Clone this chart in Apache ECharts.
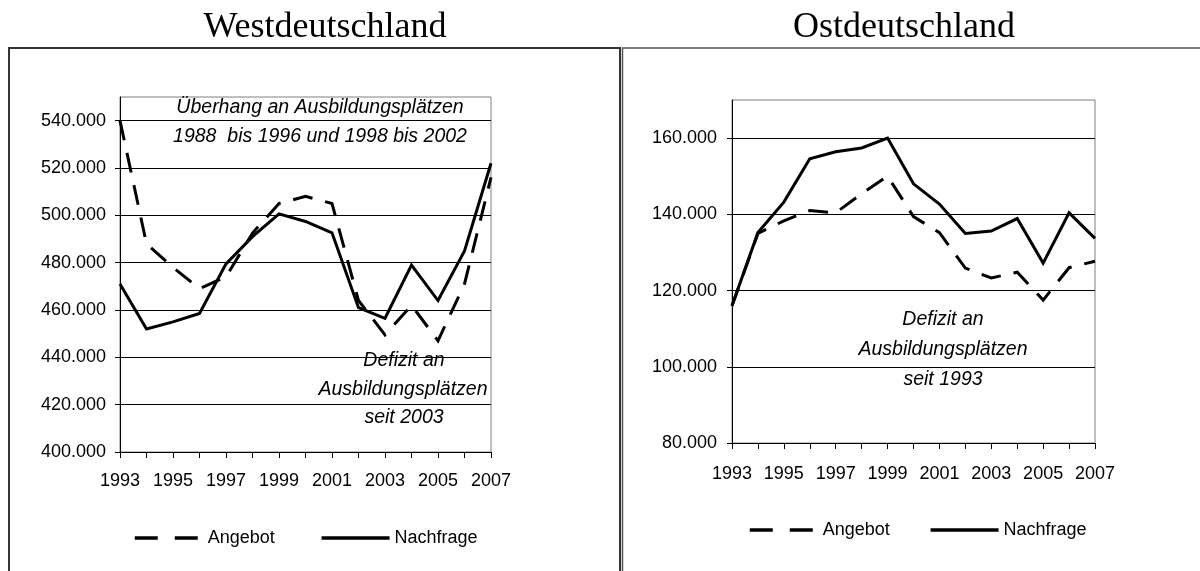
<!DOCTYPE html>
<html>
<head>
<meta charset="utf-8">
<title>Ausbildungsplätze West / Ost</title>
<script src="https://cdn.jsdelivr.net/npm/echarts@6/dist/echarts.min.js"></script>
<style>
    html, body { margin: 0; padding: 0; background: #fff; }
    #chart { width: 1200px; height: 571px; }
</style>
</head>
<body>
<div id="chart"></div>
<script>
// Jahre 1993 - 2007
var years = ["1993", "1994", "1995", "1996", "1997", "1998", "1999", "2000",
             "2001", "2002", "2003", "2004", "2005", "2006", "2007"];

// Westdeutschland
var westAngebot   = [540000, 488000, 478000, 469000, 474000, 492500, 505000, 508000,
                     505000, 464000, 449500, 462000, 447000, 471000, 516000];
var westNachfrage = [471000, 452000, 455000, 458500, 479500, 491000, 500600, 497400,
                     492600, 461000, 456500, 479000, 464000, 485000, 522000];

// Ostdeutschland
var ostAngebot    = [116000, 135000, 138300, 141000, 140400, 145400, 150000, 139400,
                     135200, 125900, 123300, 124800, 117500, 126000, 127700];
var ostNachfrage  = [116000, 135200, 143200, 154600, 156400, 157400, 160000, 148000,
                     142700, 135000, 135600, 138900, 127200, 140400, 133700];

// Achsenbeschriftung
var westTicks = [400000, 420000, 440000, 460000, 480000, 500000, 520000, 540000];
var ostTicks  = [80000, 100000, 120000, 140000, 160000];

var seriesNames = ["Angebot", "Nachfrage"];

var FONT = "Liberation Sans";
var dashType = [20, 13];

function fmt(v) {
    return Math.round(v / 1000) + ".000";
}

var myChart = echarts.init(document.getElementById("chart"));

function yAxisCfg(gridIndex, min, max, ticks, margin) {
    return {
        type: "value",
        gridIndex: gridIndex,
        min: min,
        max: max,
        interval: 20000,
        axisLine: { show: true, lineStyle: { color: "#000", width: 1 } },
        axisTick: { show: true, length: 5, customValues: ticks, lineStyle: { color: "#000" } },
        axisLabel: {
            color: "#000",
            fontFamily: FONT,
            fontSize: 18,
            margin: margin,
            customValues: ticks,
            formatter: function(v) { return v >= max ? "" : fmt(v); }
        },
        splitLine: { show: true, lineStyle: { color: "#000", width: 1 } }
    };
}

function xAxisCfg(gridIndex, margin) {
    return {
        type: "category",
        gridIndex: gridIndex,
        data: years,
        boundaryGap: false,
        axisLine: { lineStyle: { color: "#000", width: 1 } },
        axisTick: { show: true, interval: 0, length: 6, lineStyle: { color: "#000" } },
        axisLabel: { color: "#000", fontFamily: FONT, fontSize: 18, interval: 1, margin: margin },
        splitLine: { show: false }
    };
}

function lineSeries(name, data, idx, dashed) {
    return {
        name: name,
        type: "line",
        xAxisIndex: idx,
        yAxisIndex: idx,
        data: data,
        symbol: "none",
        smooth: false,
        animation: false,
        itemStyle: { color: "#000" },
        lineStyle: { color: "#000", width: 3, type: dashed ? dashType : "solid", join: "miter" }
    };
}

function legendCfg(left, top, gap) {
    return {
        left: left,
        top: top,
        data: [
            { name: seriesNames[0], lineStyle: { type: [23, 17], width: 3.5 } },
            { name: seriesNames[1], lineStyle: { type: "solid", width: 3.5 } }
        ],
        itemWidth: 68,
        itemHeight: 14,
        itemGap: gap,
        itemStyle: { opacity: 0 },
        lineStyle: { width: 3.5 },
        textStyle: { color: "#000", fontFamily: FONT, fontSize: 18 },
        selectedMode: false
    };
}

function italic(text, x, y) {
    return {
        type: "text",
        x: x,
        y: y,
        style: {
            text: text,
            fill: "#000",
            font: "italic 19.5px 'Liberation Sans'",
            align: "center",
            verticalAlign: "middle"
        },
        z: 100
    };
}

myChart.setOption({
    backgroundColor: "#fff",
    animation: false,
    grid: [
        { left: 120, top: 97, width: 371, height: 355, show: true, borderColor: "#808080", borderWidth: 1, backgroundColor: "#fff" },
        { left: 732, top: 100, width: 363, height: 343, show: true, borderColor: "#808080", borderWidth: 1, backgroundColor: "#fff" }
    ],
    xAxis: [xAxisCfg(0, 20), xAxisCfg(1, 22)],
    yAxis: [yAxisCfg(0, 400000, 550000, westTicks, 14), yAxisCfg(1, 80000, 170000, ostTicks, 15)],
    legend: [legendCfg(128, 524, 45), legendCfg(743, 516, 39)],
    series: [
        lineSeries(seriesNames[0], westAngebot, 0, true),
        lineSeries(seriesNames[1], westNachfrage, 0, false),
        lineSeries(seriesNames[0], ostAngebot, 1, true),
        lineSeries(seriesNames[1], ostNachfrage, 1, false)
    ],
    graphic: [
        // Rahmen
        { type: "rect", shape: { x: 9, y: 48, width: 611, height: 540 }, style: { fill: null, stroke: "#333", lineWidth: 2 }, z: -10 },
        { type: "rect", shape: { x: 622.5, y: 48, width: 600, height: 540 }, style: { fill: null, stroke: "#555", lineWidth: 1.5 }, z: -10 },
        // Überschriften
        { type: "text", x: 325, y: 28, style: { text: "Westdeutschland", fill: "#000", font: "36px 'Liberation Serif'", align: "center", verticalAlign: "middle" } },
        { type: "text", x: 904, y: 28, style: { text: "Ostdeutschland", fill: "#000", font: "36px 'Liberation Serif'", align: "center", verticalAlign: "middle" } },
        // Anmerkungen
        italic("Überhang an Ausbildungsplätzen", 320, 108),
        italic("1988  bis 1996 und 1998 bis 2002", 320, 137),
        italic("Defizit an", 404, 361),
        italic("Ausbildungsplätzen", 403, 390),
        italic("seit 2003", 404, 418),
        italic("Defizit an", 943, 320),
        italic("Ausbildungsplätzen", 943, 350),
        italic("seit 1993", 943, 380)
    ]
});
</script>
</body>
</html>
